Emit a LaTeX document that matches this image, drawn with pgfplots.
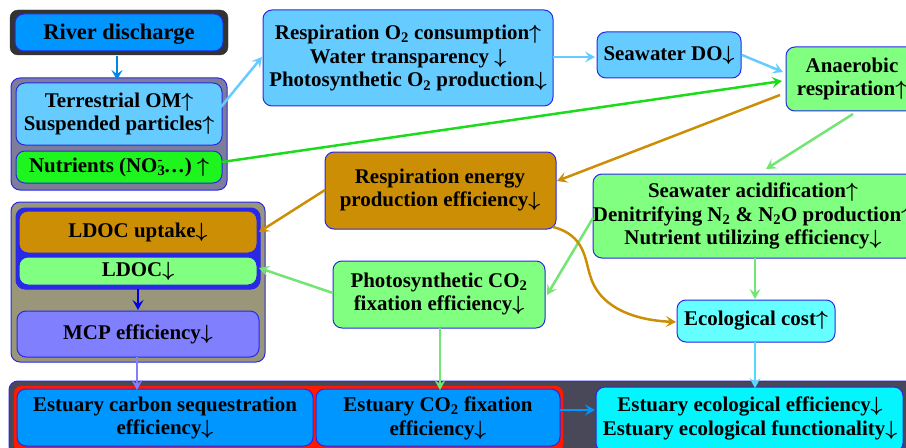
\documentclass[border=0pt]{standalone}
\usepackage{fontspec}
\setmainfont{Liberation Serif}
\usepackage{pgfplots}
\pgfplotsset{compat=1.18}
\usetikzlibrary{arrows.meta}
\definecolor{bdr}{RGB}{40,40,230}
\definecolor{rblue}{RGB}{0,150,255}
\definecolor{lblue}{RGB}{102,204,255}
\definecolor{grp}{RGB}{125,125,155}
\definecolor{ngreen}{RGB}{30,245,30}
\definecolor{lgreen}{RGB}{128,255,128}
\definecolor{brn}{RGB}{204,142,5}
\definecolor{olive}{RGB}{153,150,122}
\definecolor{lav}{RGB}{128,128,255}
\definecolor{cyn}{RGB}{102,255,255}
\definecolor{cyn2}{RGB}{5,245,255}
\definecolor{dgray}{RGB}{72,72,88}
\definecolor{rred}{RGB}{255,25,0}
\newcommand\ff{\fontsize{21}{24}\selectfont\bfseries}
\newcommand\UP{\mbox{\boldmath$\uparrow$}}
\newcommand\DN{\mbox{\boldmath$\downarrow$}}
\newcommand\bx[5]{\draw[draw=bdr,fill=#5,line width=1bp,rounded corners=9bp] (#1,#2) rectangle (#3,#4);}
\newcommand\tx[3]{\node[align=center,font=\ff,inner sep=0pt] at (#1,#2) {#3};}
\tikzset{arr/.style={line width=2.5bp,-{Stealth[length=10bp,width=11bp,inset=4bp]}}}
\begin{document}
\begin{tikzpicture}
\begin{axis}[scale only axis,width=906bp,height=448bp,xmin=0,xmax=906,ymin=0,ymax=448,
  y dir=reverse,axis lines=none,clip=false]
% River discharge
\draw[fill=black!80,draw=black!80,rounded corners=8bp] (10,10) rectangle (228,55);
\bx{15}{14}{223}{51}{rblue}
\node[font=\fontsize{22.5}{25}\selectfont\bfseries,inner sep=0pt] at (119,34) {River discharge};
% group 1
\bx{11}{78}{227}{190}{grp}
\bx{16}{83}{222}{145}{lblue}
\tx{119}{114}{Terrestrial OM\UP\\Suspended particles\UP}
\bx{16}{151}{222}{183}{ngreen}
\tx{119}{167}{Nutrients (NO\rlap{\textsubscript{3}}\textsuperscript{-}\kern1pt…) \UP}
% top boxes
\bx{263}{10}{553}{106}{lblue}
\tx{408}{58}{Respiration O\textsubscript{2} consumption\UP\\Water transparency \DN\\Photosynthetic O\textsubscript{2} production\DN}
\bx{597}{32}{741}{78}{lblue}
\tx{669}{55}{Seawater DO\DN}
\bx{786}{47}{918}{111}{lgreen}
\tx{852}{79}{Anaerobic\\respiration\UP}
% middle
\bx{325}{152}{556}{229}{brn}
\tx{440}{190}{Respiration energy\\production efficiency\DN}
\bx{593}{174}{915}{258}{lgreen}
\tx{753}{216}{Seawater acidification\UP\\Denitrifying N\textsubscript{2} \& N\textsubscript{2}O production\UP\\Nutrient utilizing efficiency\DN}
% LDOC group
\bx{11}{202}{265}{362}{olive}
\draw[draw=bdr,fill=bdr,line width=1bp,rounded corners=9bp] (16,208) rectangle (260,289);
\bx{19}{211}{257}{253}{brn}
\tx{138}{232}{LDOC uptake\DN}
\bx{19}{257}{257}{285}{lgreen}
\tx{138}{271}{LDOC\DN}
\bx{17}{311}{259}{357}{lav}
\tx{138}{334}{MCP efficiency\DN}
\bx{333}{261}{545}{328}{lgreen}
\tx{439}{294}{Photosynthetic CO\textsubscript{2}\\fixation efficiency\DN}
\bx{677}{300}{835}{342}{cyn}
\tx{756}{321}{Ecological cost\UP}
% bottom band
\draw[draw=bdr,fill=dgray,line width=1bp,rounded corners=9bp] (9,381) rectangle (915,455);
\draw[draw=rred,fill=rred,rounded corners=8bp] (14,386) rectangle (563,452);
\bx{17}{389}{313}{446}{rblue}
\tx{165}{418}{Estuary carbon sequestration\\efficiency\DN}
\bx{316}{389}{560}{446}{rblue}
\tx{438}{418}{Estuary CO\textsubscript{2} fixation\\efficiency\DN}
\bx{596}{387}{903}{452}{cyn2}
\tx{750}{418}{Estuary ecological efficiency\DN\\Estuary ecological functionality\DN}
% arrows
\draw[arr,color=rblue!90!black] (117,56) -- (117,80);
\draw[arr,color=lblue] (220,108) -- (262,57);
\draw[arr,color=lblue] (553,57) -- (595,57);
\draw[arr,color=lblue] (742,55) -- (783,72);
\draw[arr,color=ngreen!90!black] (222,162) -- (782,81);
\draw[arr,color=brn] (780,95) -- (557,181);
\draw[arr,color=brn] (325,190) -- (259,232);
\draw[arr,color=lgreen!90!black] (853,114) -- (766,169);
\draw[arr,color=lgreen!90!black] (593,218) -- (547,295);
\draw[arr,color=lgreen!90!black] (333,293) -- (259,268);
\draw[arr,color=lgreen!90!black] (440,328) -- (440,390);
\draw[arr,color=lgreen!90!black] (755,258) -- (755,299);
\draw[arr,color=cyn!85!blue] (755,342) -- (755,388);
\draw[arr,color=blue!90!black] (138,289) -- (138,310);
\draw[arr,color=lav] (137,357) -- (137,390);
\draw[arr,color=rblue] (560,410) -- (595,410);
\draw[arr,color=brn] (553,227) .. controls (585,235) and (585,260) .. (590,275) .. controls (598,305) and (630,320) .. (676,322);
\end{axis}
\pgfresetboundingbox
\useasboundingbox (0,0) rectangle (906bp,448bp);
\end{tikzpicture}
\end{document}
